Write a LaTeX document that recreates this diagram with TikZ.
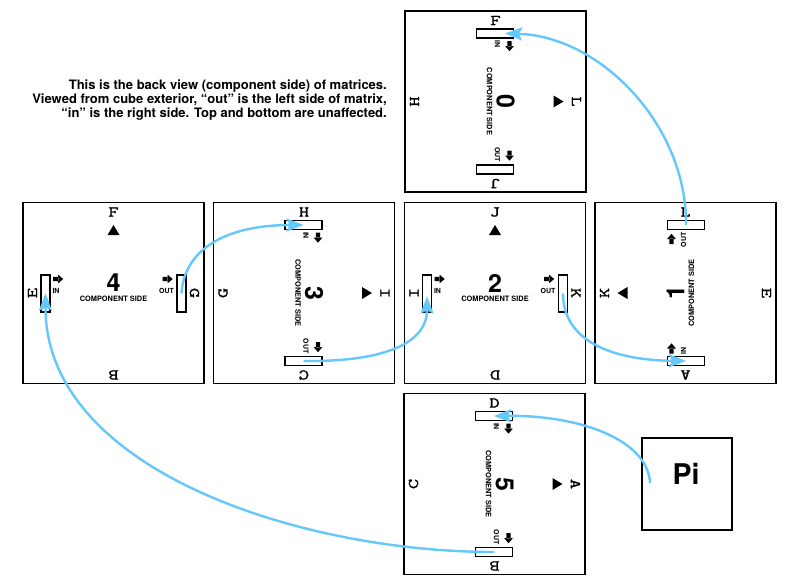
\documentclass[tikz,border=0pt]{standalone}
\usepackage{fontspec}
\setmainfont{TeX Gyre Heros}
\newfontfamily\edgefont{lmmono10-regular.otf}[FakeStretch=1.3,FakeBold=1.2]
\usetikzlibrary{arrows.meta}
\definecolor{wire}{RGB}{100,200,250}
\tikzset{
  facebox/.style={draw=black, line width=1.5pt, minimum width=181pt, minimum height=181pt, inner sep=0pt},
  portbox/.style={draw=black, line width=1.2pt, fill=white, minimum width=9pt, minimum height=37pt, inner sep=0pt},
  iolbl/.style={font=\bfseries\fontsize{7}{7}\selectfont, inner sep=0pt},
  bignum/.style={font=\bfseries\fontsize{25}{25}\selectfont, inner sep=0pt},
  cside/.style={font=\bfseries\fontsize{7.4}{7.4}\selectfont, inner sep=0pt},
  edgeletter/.style={font=\edgefont\fontsize{15}{15}\selectfont, inner sep=0pt},
  wirec/.style={draw=wire, line width=2.4pt, -{Stealth[length=17pt,width=13pt,inset=3pt]}},
  pibox/.style={draw=black, line width=1.5pt, minimum width=90pt, minimum height=92pt, inner sep=0pt},
}
% name, cx, cy, rotation, digit, top, right, bottom, left
\newcommand\facepanel[9]{%
  \begin{scope}[shift={(#2,#3)}]
    \node[facebox] (#1) at (0,0) {};
    \node[edgeletter] (#1t) at (0,-81) {#6};
    \node[edgeletter, rotate=-90] (#1r) at (81,0) {#7};
    \node[edgeletter, rotate=180] (#1d) at (0,82) {#8};
    \node[edgeletter, rotate=90] (#1l) at (-81,0) {#9};
  \end{scope}
  \begin{scope}[shift={(#2,#3)}, rotate=#4, transform shape]
    \node[portbox] (#1i) at (-68,0.5) {};
    \node[portbox] (#1o) at (68,0.5) {};
    \fill[shift={(-55.5,-14)}] (-5,-2.1) rectangle (0.5,2.1) (0,-4.4) -- (5.2,0) -- (0,4.4) -- cycle;
    \fill[shift={(54,-14)}] (-5,-2.1) rectangle (0.5,2.1) (0,-4.4) -- (5.2,0) -- (0,4.4) -- cycle;
    \node[iolbl] (#1a) at (-57.5,-2) {IN};
    \node[iolbl] (#1b) at (53,-2) {OUT};
    \node[bignum] (#1n) at (0,-10) {#5};
    \node[cside] (#1c) at (0,6) {COMPONENT SIDE};
    \fill (-6,-58) -- (0,-68) -- (6,-58) -- cycle;
  \end{scope}}
\begin{document}
\begin{tikzpicture}[x=1pt, y=-1pt]
\useasboundingbox (0,0) rectangle (800,587);
\fill[white] (0,0) rectangle (800,587);

\node[align=right, anchor=east, font=\bfseries\fontsize{13}{14.3}\selectfont, inner sep=0pt] (note) at (387,100)
  {This is the back view (component side) of matrices.\\
   Viewed from cube exterior, “out” is the left side of matrix,\\
   “in” is the right side. Top and bottom are unaffected.};

\facepanel{pz}{495.5}{101.5}{-90}{0}{F}{L}{J}{H}
\facepanel{pf}{113.5}{293}{0}{4}{F}{G}{B}{E}
\facepanel{pt}{304}{293}{-90}{3}{H}{I}{C}{G}
\facepanel{pw}{495}{293}{0}{2}{J}{K}{D}{I}
\facepanel{po}{685.5}{293}{90}{1}{L}{E}{A}{K}
\facepanel{pv}{494.5}{484}{-90}{5}{D}{A}{B}{C}

\node[pibox] (pi) at (687,484) {};
\node[font=\bfseries\fontsize{28.5}{28.5}\selectfont, inner sep=0pt] (pilbl) at (686,474) {Pi};
\coordinate (pisrc) at (650,483);

\draw[wirec] (pisrc) .. controls (648,440) and (580,415) .. (pvi.center);
\draw[wirec] (pvo.center) .. controls (300,552) and (45,470) .. (pfi.center);
\draw[wirec] (pfo.center) .. controls (184,250) and (225,225) .. (pti.center);
\draw[wirec] (pto.center) .. controls (380,362) and (427,345) .. ([yshift=-3pt]pwi.center);
\draw[wirec] (pwo.center) .. controls (563,340) and (610,360) .. (poi.center);
\draw[wirec] (poo.center) .. controls (687,125) and (600,36) .. ([xshift=10pt]pzi.center);
\end{tikzpicture}
\end{document}
